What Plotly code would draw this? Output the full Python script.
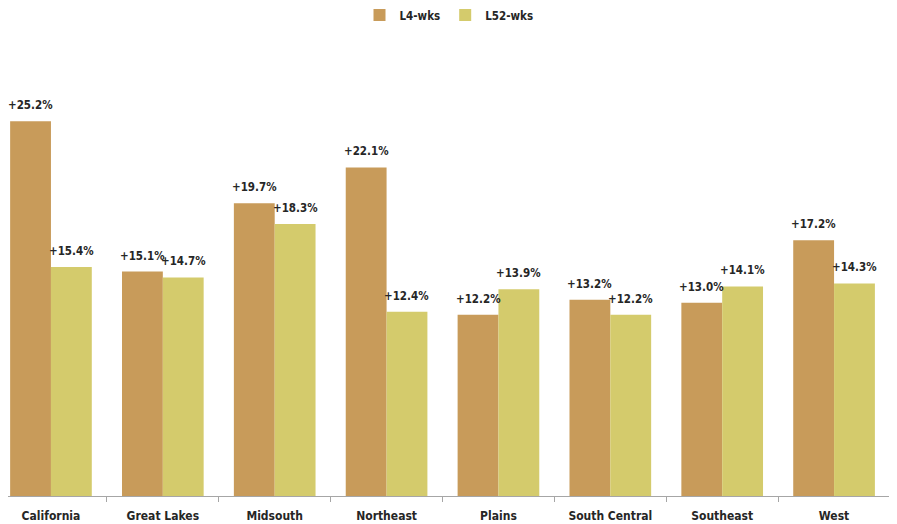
import plotly.graph_objects as go

categories = ["California", "Great Lakes", "Midsouth", "Northeast", "Plains",
              "South Central", "Southeast", "West"]
l4_wks = [25.2, 15.1, 19.7, 22.1, 12.2, 13.2, 13.0, 17.2]
l52_wks = [15.4, 14.7, 18.3, 12.4, 13.9, 12.2, 14.1, 14.3]

FONT = "DejaVu Sans Condensed, Liberation Sans Narrow, sans-serif"

def lab(vals):
    return ["+%.1f%%" % v for v in vals]

tf = dict(family=FONT, size=11.5, color="#262626", weight="bold")

fig = go.Figure()
fig.add_trace(go.Bar(name="L4-wks", x=categories, y=l4_wks, marker_color="#C89B5A",
                     marker_line_width=0))
fig.add_trace(go.Bar(name="L52-wks", x=categories, y=l52_wks, marker_color="#D4CB6C",
                     marker_line_width=0))

# value labels placed above each bar
BAR_HALF_PX = 20.4
for vals, shift in ((l4_wks, -BAR_HALF_PX), (l52_wks, BAR_HALF_PX)):
    for c, v, t in zip(categories, vals, lab(vals)):
        fig.add_annotation(x=c, y=v, xref="x", yref="y", text=t, showarrow=False,
                           xanchor="center", yanchor="bottom", xshift=shift, yshift=7,
                           font=tf)

fig.update_layout(
    width=897, height=524,
    margin=dict(l=0, r=15, t=42, b=36, autoexpand=False),
    barmode="group", bargap=0.27, bargroupgap=0,
    plot_bgcolor="white", paper_bgcolor="white",
    font=tf,
    legend=dict(orientation="h", x=0.5, xanchor="center", y=1 + 35 / 446, yanchor="middle",
                font=tf, itemwidth=30, traceorder="normal"),
    showlegend=True,
)
fig.update_xaxes(range=[-0.384, 7.5], showline=True, linecolor="#A6A6A6", linewidth=1,
                 ticks="outside", tickson="boundaries", ticklen=5, tickcolor="#A6A6A6",
                 tickfont=dict(family=FONT, size=12, color="#262626", weight="bold"),
                 ticklabelstandoff=9, automargin=False)
fig.update_yaxes(range=[0, 30], visible=False, showgrid=False, automargin=False)

fig.write_html("out.html")
